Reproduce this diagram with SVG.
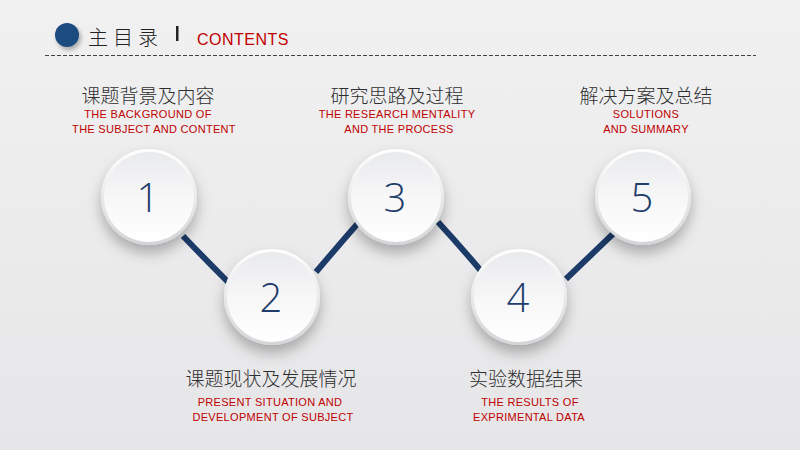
<svg xmlns="http://www.w3.org/2000/svg" width="800" height="450" viewBox="0 0 800 450">
<defs>
<linearGradient id="bg" x1="0" y1="0" x2="0" y2="1">
<stop offset="0" stop-color="#f1f1f2"/>
<stop offset="1" stop-color="#e6e6e8"/>
</linearGradient>
<linearGradient id="disc" x1="0" y1="0" x2="0" y2="1">
<stop offset="0" stop-color="#e9eaec"/>
<stop offset="0.5" stop-color="#f7f7f8"/>
<stop offset="1" stop-color="#ffffff"/>
</linearGradient>
<linearGradient id="rim" x1="0" y1="0" x2="0" y2="1">
<stop offset="0" stop-color="#ffffff"/>
<stop offset="1" stop-color="#d4d5d8"/>
</linearGradient>
<filter id="sh" x="-40%" y="-40%" width="180%" height="180%">
<feDropShadow dx="0" dy="8" stdDeviation="7" flood-color="#000" flood-opacity="0.28"/>
</filter>
<filter id="sh2" x="-60%" y="-60%" width="220%" height="220%">
<feDropShadow dx="2" dy="3" stdDeviation="2" flood-color="#000" flood-opacity="0.3"/>
</filter>
<style>
.cn{font-family:"Noto Sans CJK SC","Noto Sans",sans-serif;font-size:19px;font-weight:300;fill:#2e2e2e;text-anchor:middle}
.en{font-family:"Liberation Sans",Arial,sans-serif;font-size:11px;fill:#c00000;text-anchor:middle;letter-spacing:0.3px}
.num{font-family:"Open Sans","Noto Sans",sans-serif;font-size:40px;font-weight:300;fill:#1e3d6b;text-anchor:middle}
.link{fill:none;stroke:#1c3b68;stroke-width:6}
</style>
</defs>
<rect width="800" height="450" fill="url(#bg)"/>
<g id="header">
<circle cx="67" cy="35" r="12" fill="#1f4b80" filter="url(#sh2)"/>
<text x="88" y="45" font-family="Noto Sans CJK SC,sans-serif" font-size="20" font-weight="300" fill="#222" letter-spacing="5">主目录</text>
<rect x="176" y="26" width="2.5" height="15" fill="#222"/>
<text x="197" y="45" font-family="Liberation Sans,Arial,sans-serif" font-size="16" fill="#c00000" letter-spacing="0.5">CONTENTS</text>
<line x1="45" y1="55.5" x2="756" y2="55.5" stroke="#444" stroke-width="1" stroke-dasharray="4,2"/>
</g>
<g id="connectors">
<path class="link" d="M183,236 Q208,262 229,283"/>
<path class="link" d="M316,272 Q338,246 359,222"/>
<path class="link" d="M438,222 Q460,246 482,272"/>
<path class="link" d="M566,279 Q590,256 615,232"/>
</g>
<g id="n1">
<circle cx="149" cy="197" r="48" fill="url(#rim)" filter="url(#sh)"/>
<circle cx="149" cy="197" r="45" fill="url(#disc)"/>
<text class="num" x="148" y="212">1</text>
<text class="cn" x="148" y="103">课题背景及内容</text>
<text class="en" x="148" y="118">THE BACKGROUND OF</text>
<text class="en" x="154" y="133">THE SUBJECT AND CONTENT</text>
</g>
<g id="n2">
<circle cx="272" cy="297" r="48" fill="url(#rim)" filter="url(#sh)"/>
<circle cx="272" cy="297" r="45" fill="url(#disc)"/>
<text class="num" x="271" y="312">2</text>
<text class="cn" x="271" y="386">课题现状及发展情况</text>
<text class="en" x="270" y="406">PRESENT SITUATION AND</text>
<text class="en" x="273" y="421">DEVELOPMENT OF SUBJECT</text>
</g>
<g id="n3">
<circle cx="396" cy="197" r="48" fill="url(#rim)" filter="url(#sh)"/>
<circle cx="396" cy="197" r="45" fill="url(#disc)"/>
<text class="num" x="395" y="212">3</text>
<text class="cn" x="397" y="103">研究思路及过程</text>
<text class="en" x="397" y="118">THE RESEARCH MENTALITY</text>
<text class="en" x="399" y="133">AND THE PROCESS</text>
</g>
<g id="n4">
<circle cx="519" cy="297" r="48" fill="url(#rim)" filter="url(#sh)"/>
<circle cx="519" cy="297" r="45" fill="url(#disc)"/>
<text class="num" x="518" y="312">4</text>
<text class="cn" x="526" y="386">实验数据结果</text>
<text class="en" x="530" y="406">THE RESULTS OF</text>
<text class="en" x="529" y="421">EXPRIMENTAL DATA</text>
</g>
<g id="n5">
<circle cx="643" cy="197" r="48" fill="url(#rim)" filter="url(#sh)"/>
<circle cx="643" cy="197" r="45" fill="url(#disc)"/>
<text class="num" x="642" y="212">5</text>
<text class="cn" x="646" y="103">解决方案及总结</text>
<text class="en" x="646" y="118">SOLUTIONS</text>
<text class="en" x="646" y="133">AND SUMMARY</text>
</g>
</svg>
